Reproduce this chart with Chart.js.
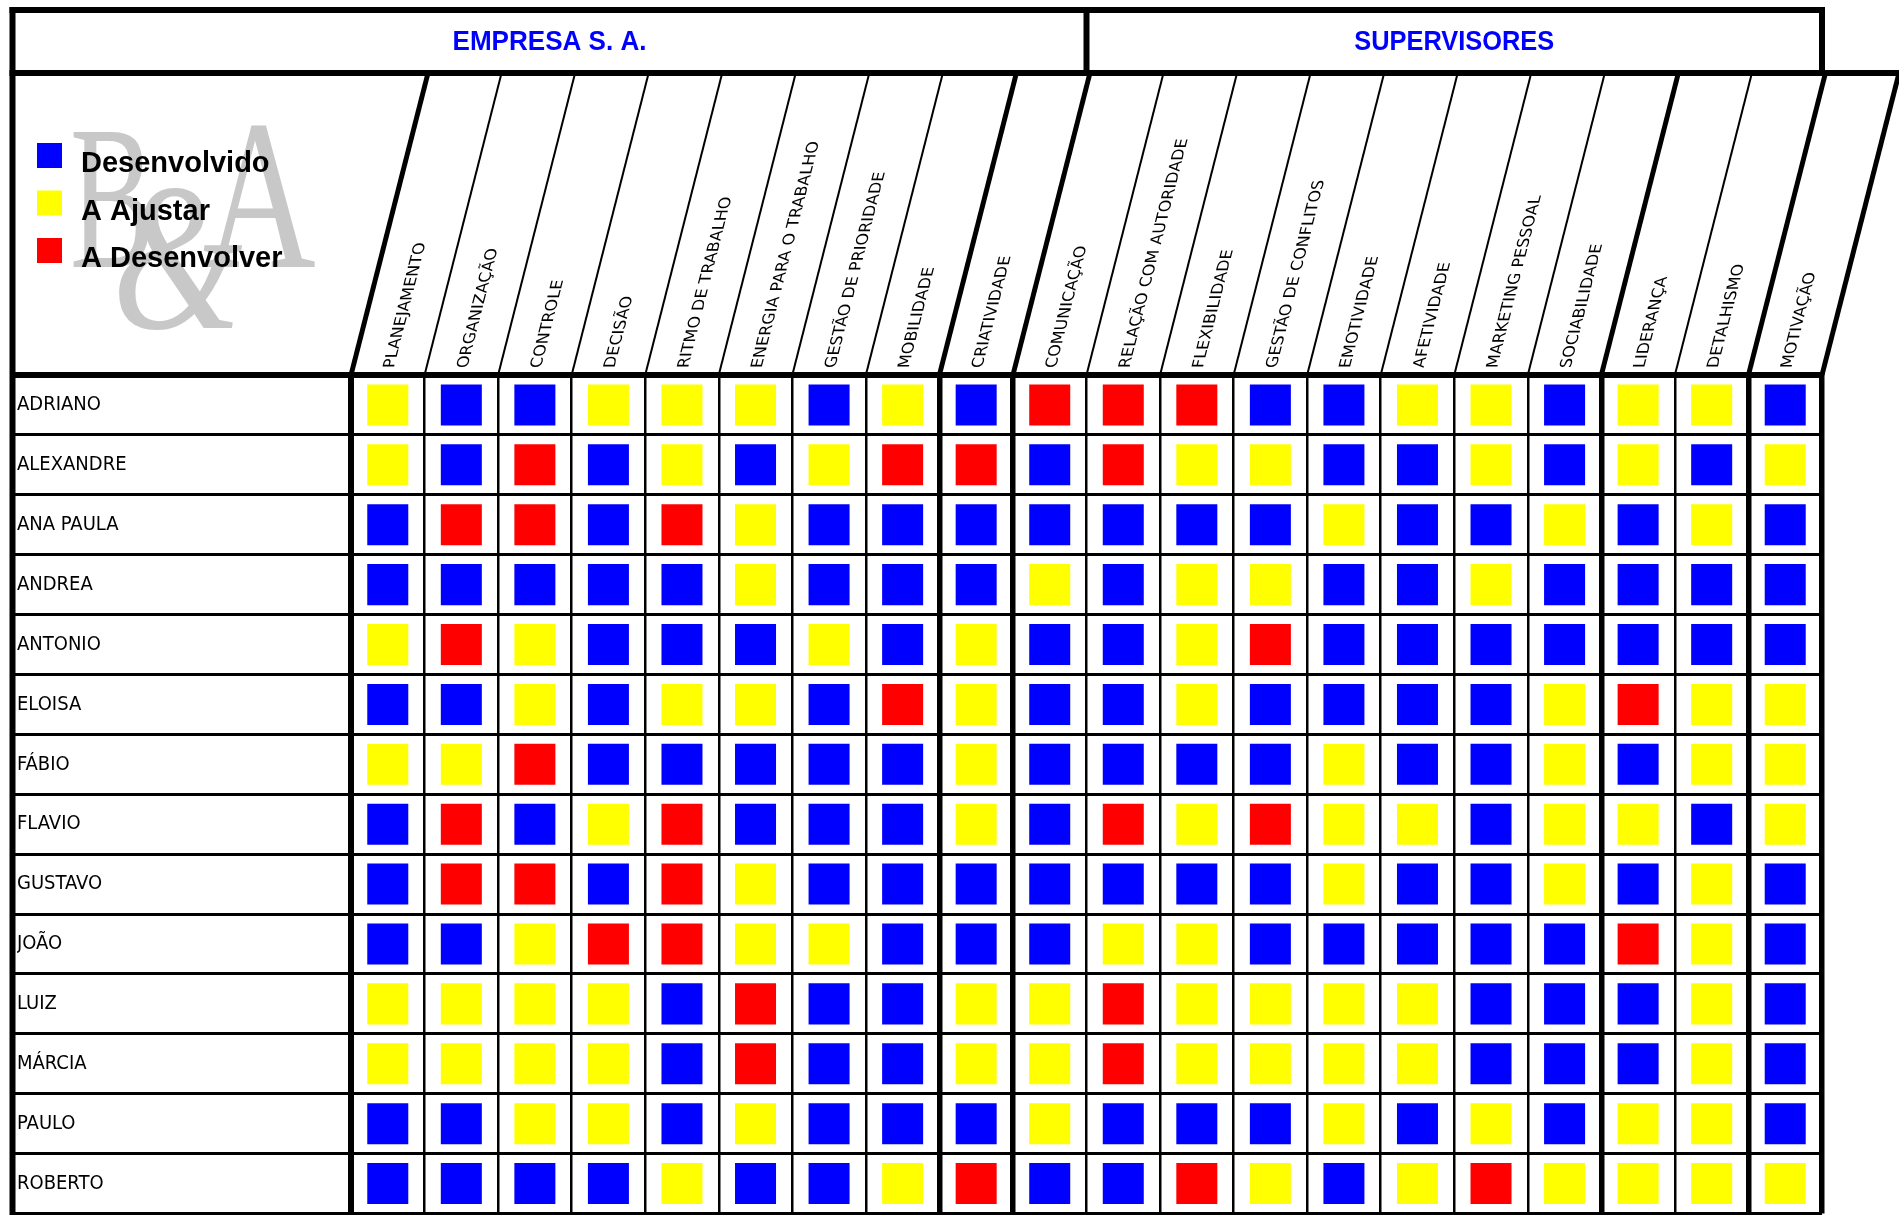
<!DOCTYPE html>
<html lang="pt-BR">
<head>
<meta charset="utf-8">
<title>Empresa S. A. - Supervisores</title>
<script src="https://cdn.jsdelivr.net/npm/chart.js@4/dist/chart.umd.min.js"></script>
<style>
    html, body { margin: 0; padding: 0; background: #ffffff; }
    canvas { display: block; }
</style>
</head>
<body>
<canvas id="quadroChart" width="1899" height="1215"></canvas>
<script>
// competências avaliadas (colunas)
const competencias = [
    'PLANEJAMENTO', 'ORGANIZAÇÃO', 'CONTROLE', 'DECISÃO', 'RITMO DE TRABALHO',
    'ENERGIA PARA O TRABALHO', 'GESTÃO DE PRIORIDADE', 'MOBILIDADE', 'CRIATIVIDADE',
    'COMUNICAÇÃO', 'RELAÇÃO COM AUTORIDADE', 'FLEXIBILIDADE', 'GESTÃO DE CONFLITOS',
    'EMOTIVIDADE', 'AFETIVIDADE', 'MARKETING PESSOAL', 'SOCIABILIDADE', 'LIDERANÇA',
    'DETALHISMO', 'MOTIVAÇÃO'
];

// supervisores (linhas)
const colaboradores = [
    'ADRIANO', 'ALEXANDRE', 'ANA PAULA', 'ANDREA', 'ANTONIO', 'ELOISA', 'FÁBIO',
    'FLAVIO', 'GUSTAVO', 'JOÃO', 'LUIZ', 'MÁRCIA', 'PAULO', 'ROBERTO'
];

// níveis: 1 = Desenvolvido, 2 = A Ajustar, 3 = A Desenvolver
const niveis = ['Desenvolvido', 'A Ajustar', 'A Desenvolver'];

const avaliacoes = [
    [2, 1, 1, 2, 2, 2, 1, 2, 1, 3, 3, 3, 1, 1, 2, 2, 1, 2, 2, 1], // ADRIANO
    [2, 1, 3, 1, 2, 1, 2, 3, 3, 1, 3, 2, 2, 1, 1, 2, 1, 2, 1, 2], // ALEXANDRE
    [1, 3, 3, 1, 3, 2, 1, 1, 1, 1, 1, 1, 1, 2, 1, 1, 2, 1, 2, 1], // ANA PAULA
    [1, 1, 1, 1, 1, 2, 1, 1, 1, 2, 1, 2, 2, 1, 1, 2, 1, 1, 1, 1], // ANDREA
    [2, 3, 2, 1, 1, 1, 2, 1, 2, 1, 1, 2, 3, 1, 1, 1, 1, 1, 1, 1], // ANTONIO
    [1, 1, 2, 1, 2, 2, 1, 3, 2, 1, 1, 2, 1, 1, 1, 1, 2, 3, 2, 2], // ELOISA
    [2, 2, 3, 1, 1, 1, 1, 1, 2, 1, 1, 1, 1, 2, 1, 1, 2, 1, 2, 2], // FÁBIO
    [1, 3, 1, 2, 3, 1, 1, 1, 2, 1, 3, 2, 3, 2, 2, 1, 2, 2, 1, 2], // FLAVIO
    [1, 3, 3, 1, 3, 2, 1, 1, 1, 1, 1, 1, 1, 2, 1, 1, 2, 1, 2, 1], // GUSTAVO
    [1, 1, 2, 3, 3, 2, 2, 1, 1, 1, 2, 2, 1, 1, 1, 1, 1, 3, 2, 1], // JOÃO
    [2, 2, 2, 2, 1, 3, 1, 1, 2, 2, 3, 2, 2, 2, 2, 1, 1, 1, 2, 1], // LUIZ
    [2, 2, 2, 2, 1, 3, 1, 1, 2, 2, 3, 2, 2, 2, 2, 1, 1, 1, 2, 1], // MÁRCIA
    [1, 1, 2, 2, 1, 2, 1, 1, 1, 2, 1, 1, 1, 2, 1, 2, 1, 2, 2, 1], // PAULO
    [1, 1, 1, 1, 2, 1, 1, 2, 3, 1, 1, 3, 2, 1, 2, 3, 2, 2, 2, 2]  // ROBERTO
];

const coresNivel = ['#0000ff', '#ffff00', '#ff0000'];
const linhasGrossas = [0, 8, 9, 17, 19, 20]; // divisórias grossas entre blocos
const INCLINA = 0.255;                       // inclinação do cabeçalho

document.addEventListener("DOMContentLoaded", function () {
    // um dataset por nível, um quadrado por célula
    const datasets = niveis.map(function (nivel, n) {
        const pontos = [];
        avaliacoes.forEach(function (linha, r) {
            linha.forEach(function (v, c) {
                if (v === n + 1) pontos.push({ x: competencias[c], y: colaboradores[r] });
            });
        });
        return {
            label: nivel,
            data: pontos,
            backgroundColor: coresNivel[n],
            borderWidth: 0,
            pointStyle: 'rect',
            pointRadius: 29,
            pointHoverRadius: 29
        };
    });

    // texto comprimido na horizontal até a largura pedida
    function textoLargura(ctx, txt, cx, cy, largura) {
        const w = ctx.measureText(txt).width;
        ctx.save();
        ctx.translate(cx, cy);
        ctx.scale(largura / w, 1);
        ctx.fillText(txt, 0, 0);
        ctx.restore();
    }

    // moldura, títulos, cabeçalho inclinado e legenda
    const moldura = {
        id: 'moldura',
        beforeDatasetsDraw(chart) {
            const ctx = chart.ctx;
            // marca d'água B&A
            ctx.save();
            ctx.fillStyle = '#c8c8c8';
            ctx.textBaseline = 'alphabetic';
            ctx.font = '205px "Liberation Serif", "DejaVu Serif", serif';
            ctx.save(); ctx.translate(70, 267); ctx.scale(0.62, 1); ctx.fillText('B', 0, 0); ctx.restore();
            ctx.font = '215px "Liberation Serif", "DejaVu Serif", serif';
            ctx.save(); ctx.translate(204, 267); ctx.scale(0.72, 1); ctx.fillText('A', 0, 0); ctx.restore();
            ctx.font = 'italic 210px "Liberation Serif", "DejaVu Serif", serif';
            ctx.save(); ctx.translate(112, 328); ctx.scale(0.8, 1); ctx.fillText('&', 0, 0); ctx.restore();
            ctx.restore();
        },
        afterDraw(chart) {
            const ctx = chart.ctx;
            const a = chart.chartArea;
            const x = chart.scales.x;
            const topoCab = 73;
            const esquerda = 12.5;
            const divisoria = x.getPixelForValue(9.5);

            ctx.save();
            ctx.strokeStyle = '#000000';
            ctx.lineCap = 'butt';

            function linha(x1, y1, x2, y2, w) {
                ctx.lineWidth = w;
                ctx.beginPath();
                ctx.moveTo(x1, y1);
                ctx.lineTo(x2, y2);
                ctx.stroke();
            }

            // faixa de títulos
            linha(esquerda - 3, 10, a.right + 3, 10, 6);
            linha(esquerda, 7, esquerda, chart.height, 6);
            linha(divisoria, 10, divisoria, topoCab, 6);
            linha(a.right, 7, a.right, topoCab, 6);
            linha(esquerda - 3, topoCab, chart.width, topoCab, 6);

            // linhas inclinadas do cabeçalho
            for (let k = 0; k <= competencias.length; k++) {
                const xb = x.getPixelForValue(k - 0.5);
                const w = linhasGrossas.includes(k) ? 5 : 2;
                linha(xb, a.top, xb + INCLINA * (a.top - topoCab), topoCab, w);
            }

            // títulos
            ctx.fillStyle = '#0000ff';
            ctx.textAlign = 'center';
            ctx.textBaseline = 'middle';
            ctx.font = 'bold 28px "Liberation Sans Narrow", "Liberation Sans", Arial, sans-serif';
            textoLargura(ctx, 'EMPRESA S. A.', (esquerda + divisoria) / 2, 42, 194);
            textoLargura(ctx, 'SUPERVISORES', (divisoria + a.right) / 2, 42, 200);

            // rótulos das competências, inclinados como o cabeçalho
            ctx.fillStyle = '#000000';
            ctx.textAlign = 'left';
            ctx.font = '16px "DejaVu Sans", Verdana, sans-serif';
            competencias.forEach(function (nome, i) {
                const y0 = a.top - 7;
                const x0 = x.getPixelForValue(i) + INCLINA * (a.top - y0);
                ctx.save();
                ctx.translate(x0, y0);
                ctx.transform(INCLINA, -1, 1, 0, 0, 0);
                ctx.fillText(nome, 0, 0);
                ctx.restore();
            });

            // legenda
            ctx.font = 'bold 29px "Liberation Sans", Arial, sans-serif';
            ctx.textBaseline = 'alphabetic';
            chart.data.datasets.forEach(function (ds, n) {
                const yq = 143 + n * 47.5;
                ctx.fillStyle = ds.backgroundColor;
                ctx.fillRect(37, yq, 25, 25);
                ctx.fillStyle = '#000000';
                ctx.fillText(ds.label, 81, yq + 29);
            });
            ctx.restore();
        }
    };

    const ctxQuadro = document.getElementById('quadroChart').getContext('2d');
    new Chart(ctxQuadro, {
        type: 'scatter',
        data: { datasets: datasets },
        plugins: [moldura],
        options: {
            responsive: false,
            animation: false,
            events: [],
            layout: {
                autoPadding: false,
                padding: { left: 17, top: 75, right: 77, bottom: 1.5 }
            },
            plugins: {
                legend: { display: false },
                tooltip: { enabled: false }
            },
            scales: {
                x: {
                    type: 'category',
                    labels: competencias,
                    position: 'top',
                    offset: true,
                    afterFit: function (scale) {
                        scale.height = 300;
                        scale.paddingLeft = 0;
                        scale.paddingRight = 0;
                    },
                    ticks: { display: false },
                    border: { display: true, color: '#000000', width: 6 },
                    grid: {
                        offset: true,
                        drawTicks: false,
                        color: '#000000',
                        lineWidth: function (c) {
                            return (c.index === undefined || linhasGrossas.includes(c.index)) ? 5.5 : 2.5;
                        }
                    }
                },
                y: {
                    type: 'category',
                    labels: colaboradores,
                    offset: true,
                    afterFit: function (scale) {
                        scale.width = 334;
                        scale.paddingTop = 0;
                        scale.paddingBottom = 0;
                    },
                    ticks: {
                        crossAlign: 'far',
                        padding: 0,
                        color: '#000000',
                        font: { family: '"Liberation Sans Narrow", "DejaVu Sans Condensed", Roboto, sans-serif', size: 20 }
                    },
                    border: { display: true, color: '#000000', width: 6 },
                    grid: {
                        offset: true,
                        drawTicks: true,
                        tickLength: 339,
                        color: '#000000',
                        lineWidth: function (c) { return c.index === 0 ? 6 : 3; }
                    }
                }
            }
        }
    });
});
</script>
</body>
</html>
